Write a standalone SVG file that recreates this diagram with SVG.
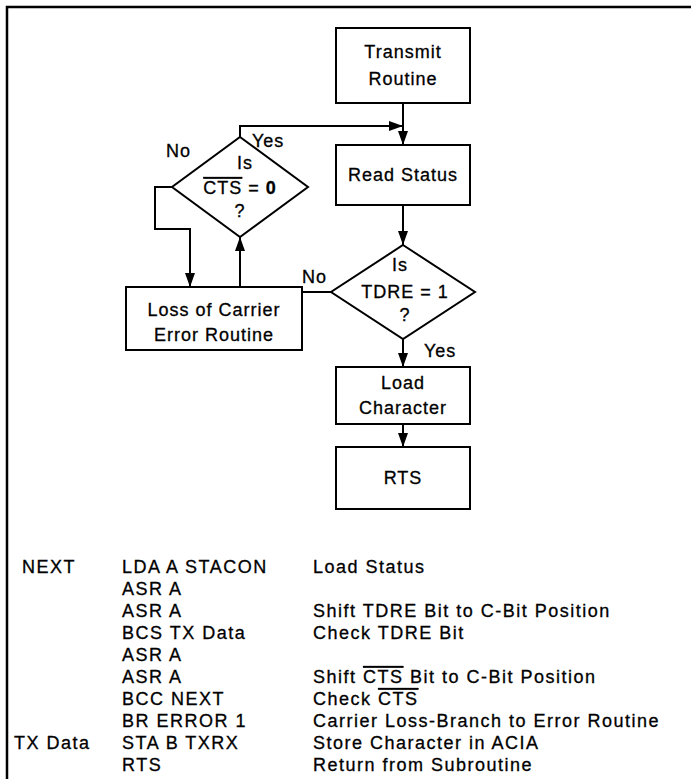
<svg xmlns="http://www.w3.org/2000/svg" width="691" height="779" viewBox="0 0 691 779">
<style>
.b{fill:#fff;stroke:#000;stroke-width:2}
.c{fill:none;stroke:#000;stroke-width:2}
text{font-family:"Liberation Sans",Arial,sans-serif;font-size:18px;fill:#000;stroke:#000;stroke-width:0.3;letter-spacing:1px}
.l text{letter-spacing:1.5px}
.m{text-anchor:middle}
.ov{text-decoration:overline}
</style>
<defs>
<marker id="ah" viewBox="0 0 14 10" refX="14" refY="5" markerWidth="14" markerHeight="10" markerUnits="userSpaceOnUse" orient="auto">
<path d="M0,0L14,5L0,10Z" fill="#000"/>
</marker>
</defs>
<path d="M7,779V7H691" fill="none" stroke="#000" stroke-width="2.5"/>
<g id="connectors">
<path class="c" d="M403,103V145" marker-end="url(#ah)"/>
<path class="c" d="M240,137V126H403" marker-end="url(#ah)"/>
<path class="c" d="M403,205V245" marker-end="url(#ah)"/>
<path class="c" d="M331,292H240V237" marker-end="url(#ah)"/>
<path class="c" d="M172,187H155V229H190V287" marker-end="url(#ah)"/>
<path class="c" d="M403,339V367" marker-end="url(#ah)"/>
<path class="c" d="M403,424V447" marker-end="url(#ah)"/>
<text x="252" y="147">Yes</text>
<text x="166" y="157">No</text>
<text x="302" y="283">No</text>
<text x="424" y="357">Yes</text>
</g>
<g id="transmit">
<rect class="b" x="336" y="28" width="134" height="75"/>
<text class="m" x="403" y="58">Transmit</text>
<text class="m" x="403" y="85">Routine</text>
</g>
<g id="readstatus">
<rect class="b" x="336" y="145" width="134" height="60"/>
<text class="m" x="403" y="181">Read Status</text>
</g>
<g id="cts">
<path class="b" d="M240,137L308,187L240,237L172,187Z"/>
<text class="m" x="245" y="169">Is</text>
<text class="m" x="240" y="194"><tspan class="ov">CTS</tspan> = <tspan font-weight="bold">0</tspan></text>
<text class="m" x="240" y="217">?</text>
</g>
<g id="tdre">
<path class="b" d="M403,245L475,292L403,339L331,292Z"/>
<text class="m" x="400" y="271">Is</text>
<text class="m" x="405" y="298">TDRE = 1</text>
<text class="m" x="405" y="321">?</text>
</g>
<g id="loss">
<rect class="b" x="126" y="287" width="176" height="63"/>
<text class="m" x="214" y="316">Loss of Carrier</text>
<text class="m" x="214" y="341">Error Routine</text>
</g>
<g id="load">
<rect class="b" x="336" y="367" width="134" height="57"/>
<text class="m" x="403" y="389">Load</text>
<text class="m" x="403" y="414">Character</text>
</g>
<g id="rts">
<rect class="b" x="336" y="447" width="134" height="62"/>
<text class="m" x="403" y="484">RTS</text>
</g>
<g id="listing" class="l">
<text x="22" y="573">NEXT</text><text x="122" y="573">LDA A STACON</text><text x="313" y="573">Load Status</text>
<text x="122" y="595">ASR A</text>
<text x="122" y="617">ASR A</text><text x="313" y="617">Shift TDRE Bit to C-Bit Position</text>
<text x="122" y="639">BCS TX Data</text><text x="313" y="639">Check TDRE Bit</text>
<text x="122" y="661">ASR A</text>
<text x="122" y="683">ASR A</text><text x="313" y="683">Shift <tspan class="ov">CTS</tspan> Bit to C-Bit Position</text>
<text x="122" y="705">BCC NEXT</text><text x="313" y="705">Check <tspan class="ov">CTS</tspan></text>
<text x="122" y="727">BR ERROR 1</text><text x="313" y="727">Carrier Loss-Branch to Error Routine</text>
<text x="14" y="749">TX Data</text><text x="122" y="749">STA B TXRX</text><text x="313" y="749">Store Character in ACIA</text>
<text x="122" y="771">RTS</text><text x="313" y="771">Return from Subroutine</text>
</g>
</svg>
